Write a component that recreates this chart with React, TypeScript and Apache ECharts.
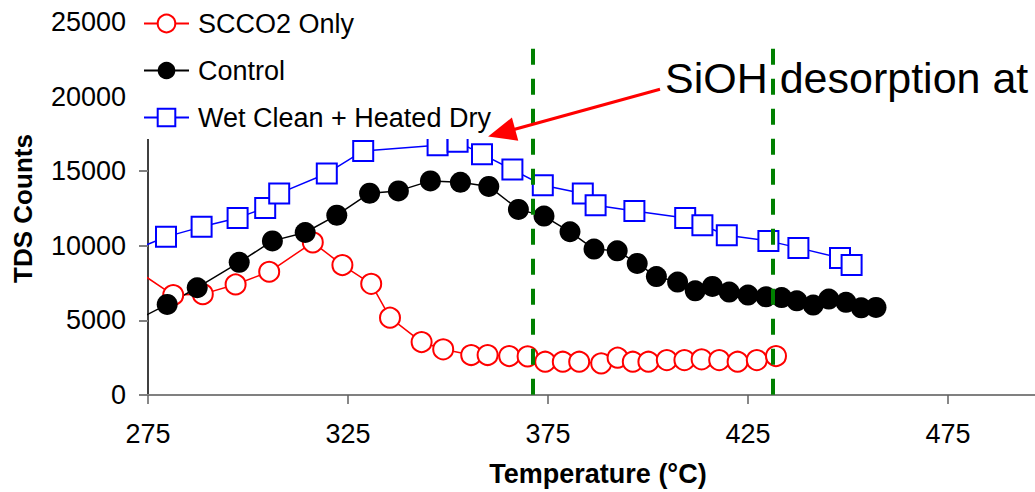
import React, { useEffect, useRef } from 'react';
import * as echarts from 'echarts';

// Temperature (°C) / TDS counts
const scco2X = [273, 281.3, 288.7, 296.9, 305.3, 316.2, 323.6, 330.8, 335.5, 343.4, 348.8, 355.8, 359.9, 365.3, 369.9, 374.3, 378.7, 382.8, 388.3, 392.4, 396.2, 400.1, 404.7, 409.1, 413.4, 417.8, 422.4, 427.2, 432];
const scco2Y = [8190, 6700, 6760, 7410, 8260, 10230, 8710, 7450, 5180, 3550, 3060, 2680, 2680, 2610, 2590, 2230, 2230, 2230, 2120, 2500, 2230, 2230, 2340, 2340, 2390, 2340, 2230, 2340, 2610];

const controlX = [273, 279.8, 287.3, 297.8, 306.1, 314.3, 322.2, 330.4, 337.6, 345.6, 353.1, 360.2, 367.6, 374, 380.5, 386.5, 392.3, 397.3, 402.1, 407.4, 411.8, 416.1, 420.3, 425, 429.5, 433.4, 437.2, 441.3, 445.2, 449.5, 453.3, 457];
const controlY = [5140, 6070, 7190, 8890, 10330, 10890, 12050, 13530, 13680, 14350, 14260, 13980, 12440, 11990, 10940, 9780, 9660, 8820, 7940, 7570, 6980, 7280, 6900, 6700, 6580, 6530, 6310, 6030, 6430, 6210, 5840, 5870];

const wetX = [273, 279.5, 288.4, 297.4, 304.3, 307.8, 319.7, 328.8, 347.4, 352.4, 358.5, 366.1, 373.7, 383.7, 386.9, 396.6, 409.3, 413.6, 419.7, 430.1, 437.6, 448, 450.9];
const wetY = [9890, 10600, 11270, 11870, 12540, 13510, 14850, 16360, 16740, 16970, 16140, 15110, 14060, 13510, 12720, 12340, 11870, 11380, 10710, 10330, 9860, 9190, 8710];

const seriesNames = ['SCCO2 Only', 'Control', 'Wet Clean + Heated Dry'];

// Annotations (data coordinates)
const dashedLineX = [371.3, 431.3];
const dashedLineTop = 23200;
const arrowFrom = [403, 20490];
const arrowTo = [363.4, 17570];
const annotationText = 'SiOH desorption at';

const FONT = '"Liberation Sans", Arial, sans-serif';

function toPoints(xs: number[], ys: number[]) {
  // first point is the clipped line start (no marker)
  return xs.map((x, i) => (i === 0 ? { value: [x, ys[i]], symbol: 'none' } : [x, ys[i]]));
}

export default function App() {
  const ref = useRef<HTMLDivElement>(null);
  useEffect(() => {
    document.body.style.margin = '0';
    const chart = echarts.init(ref.current as HTMLDivElement, null, { renderer: 'svg' });
    const green = { color: '#008000', width: 4, type: [16, 14] as any };
    const option: any = {
      animation: false,
      backgroundColor: '#fff',
      textStyle: { fontFamily: FONT },
      grid: { left: 148, width: 900, top: 22, bottom: 97, containLabel: false, outerBoundsMode: 'none' },
      legend: {
        data: seriesNames,
        orient: 'vertical',
        left: 138,
        top: 0,
        padding: [10, 10, 8, 5],
        backgroundColor: '#fff',
        itemWidth: 45,
        itemHeight: 22,
        itemGap: 20,
        textStyle: { fontFamily: FONT, fontSize: 27, lineHeight: 27, color: '#000', padding: [0, 0, 0, 4] },
      },
      xAxis: {
        type: 'value',
        min: 275,
        max: 500,
        interval: 50,
        name: 'Temperature (°C)',
        nameLocation: 'middle',
        nameGap: 65,
        nameTextStyle: { fontFamily: FONT, fontSize: 27, fontWeight: 'bold', color: '#000' },
        axisLine: { lineStyle: { color: '#808080', width: 2 } },
        axisTick: { show: true, length: 9, lineStyle: { color: '#606060', width: 1.5 } },
        axisLabel: { fontFamily: FONT, fontSize: 27, color: '#000', margin: 25, showMaxLabel: false, formatter: (v: number) => String(v) },
        splitLine: { show: false },
      },
      yAxis: {
        type: 'value',
        min: 0,
        max: 25000,
        interval: 5000,
        name: 'TDS Counts',
        nameLocation: 'middle',
        nameRotate: 90,
        nameGap: 112,
        nameTextStyle: { fontFamily: FONT, fontSize: 26, fontWeight: 'bold', color: '#000' },
        axisLine: { show: true, lineStyle: { color: '#000', width: 1.5 } },
        axisTick: { show: true, length: 9, lineStyle: { color: '#808080', width: 2 } },
        axisLabel: { fontFamily: FONT, fontSize: 27, color: '#000', margin: 22, formatter: (v: number) => String(v) },
        splitLine: { show: false },
      },
      series: [
        {
          name: seriesNames[0],
          type: 'line',
          clip: false,
          data: toPoints(scco2X, scco2Y),
          symbol: 'emptyCircle',
          symbolSize: 20,
          lineStyle: { color: '#ff0000', width: 1.5 },
          itemStyle: { color: '#ff0000', borderColor: '#ff0000', borderWidth: 1.5 },
        },
        {
          name: seriesNames[1],
          type: 'line',
          clip: false,
          data: toPoints(controlX, controlY),
          symbol: 'circle',
          symbolSize: 21,
          lineStyle: { color: '#000', width: 1.5 },
          itemStyle: { color: '#000' },
        },
        {
          name: seriesNames[2],
          type: 'line',
          clip: false,
          data: toPoints(wetX, wetY),
          symbol: 'emptyRect',
          symbolSize: 20,
          lineStyle: { color: '#0000ff', width: 1.5 },
          itemStyle: { color: '#0000ff', borderColor: '#0000ff', borderWidth: 2 },
        },
        {
          name: 'annotations',
          type: 'line',
          data: [],
          z: 10,
          silent: true,
          markLine: {
            silent: true,
            symbol: 'none',
            label: { show: false },
            emphasis: { disabled: true },
            data: [
              ...dashedLineX.map((x) => [
                { coord: [x, dashedLineTop], lineStyle: green, symbol: 'none' },
                { coord: [x, 0], symbol: 'none' },
              ]),
              [
                { coord: arrowFrom, symbol: 'none', lineStyle: { color: '#ff0000', width: 3, type: 'solid' } },
                { coord: arrowTo, symbol: 'triangle', symbolSize: [24, 28], itemStyle: { color: '#ff0000' } },
              ],
            ],
          },
        },
      ],
      graphic: [
        {
          type: 'text',
          left: 665,
          top: 56,
          z: 20,
          style: { text: annotationText, fontFamily: FONT, fontSize: 43, fill: '#000' },
        },
      ],
    };
    chart.setOption(option);
    return () => chart.dispose();
  }, []);
  return <div ref={ref} style={{ position: 'fixed', left: 0, top: 0, width: 1035, height: 492, background: '#fff' }} />;
}
